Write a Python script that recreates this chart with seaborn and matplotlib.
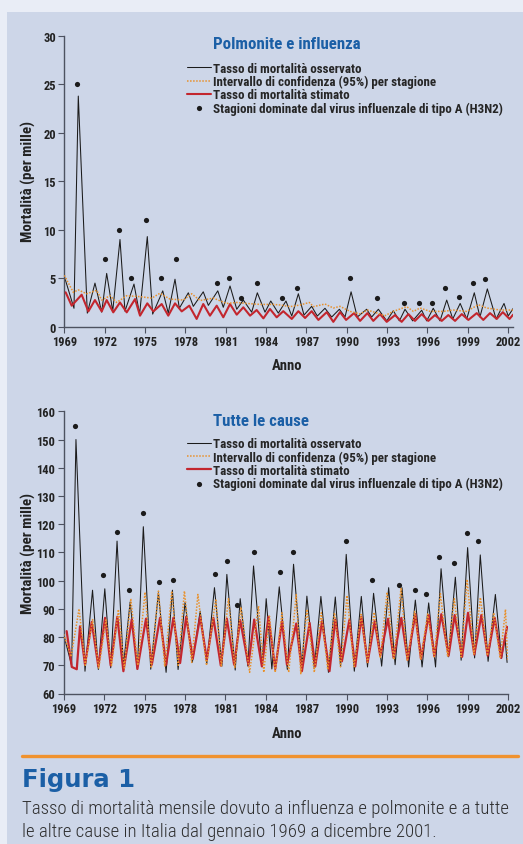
import matplotlib
matplotlib.use("Agg")
import matplotlib.pyplot as plt
from matplotlib.patches import Rectangle
from matplotlib.lines import Line2D
import seaborn as sns

# --- Data (decimal year, rate per mille) ---

# Polmonite e influenza
pi_obs_t = [1969.0, 1969.72, 1970.04, 1970.71, 1971.28, 1971.78, 1972.15, 1972.6, 1973.14, 1973.51,
            1974.18, 1974.6, 1975.17, 1975.57, 1976.32, 1976.73, 1977.23, 1977.55, 1978.22, 1978.59,
            1979.33, 1979.71, 1980.41, 1980.82, 1981.32, 1981.82, 1982.31, 1982.93, 1983.35, 1983.92,
            1984.35, 1984.91, 1985.48, 1985.91, 1986.4, 1986.82, 1987.39, 1987.81, 1988.38, 1988.88,
            1989.45, 1989.87, 1990.32, 1990.78, 1991.48, 1991.85, 1992.35, 1992.97, 1993.46, 1993.91,
            1994.33, 1994.9, 1995.57, 1995.94, 1996.43, 1996.93, 1997.43, 1997.88, 1998.43, 1998.92,
            1999.48, 1999.9, 2000.45, 2001.1, 2001.69, 2002.0, 2002.38]
pi_obs_v = [5.2, 1.9, 23.8, 1.4, 4.5, 1.5, 5.5, 1.6, 9.0, 1.6,
            4.4, 1.3, 9.3, 1.3, 3.7, 1.4, 4.9, 1.9, 3.5, 2.1,
            3.6, 2.2, 3.7, 2.0, 4.2, 1.8, 2.75, 1.5, 3.5, 1.5,
            2.65, 1.4, 2.65, 1.1, 3.4, 1.2, 2.1, 1.1, 1.9, 1.0,
            1.8, 1.0, 3.6, 1.0, 1.8, 1.0, 1.8, 0.6, 1.65, 0.6,
            1.8, 0.6, 1.7, 0.6, 1.9, 0.6, 2.75, 0.8, 2.4, 0.8,
            3.5, 1.0, 3.9, 0.8, 2.4, 1.1, 1.9]

pi_ci_t = [1969.0, 1969.67, 1970.04, 1970.66, 1971.41, 1971.78, 1972.4, 1972.89, 1973.64, 1974.63,
           1975.5, 1976.11, 1976.86, 1977.85, 1978.47, 1979.09, 1980.08, 1981.07, 1981.81, 1982.56,
           1983.55, 1984.54, 1985.04, 1985.78, 1986.52, 1987.22, 1987.52, 1988.38, 1989.0, 1989.5,
           1990.24, 1990.98, 1991.53, 1992.1, 1992.84, 1993.46, 1994.45, 1994.95, 1995.45, 1996.19,
           1997.18, 1997.92, 1998.91, 1999.78, 2000.4, 2001.39, 2002.38]
pi_ci_v = [5.3, 3.55, 3.8, 3.4, 3.75, 2.75, 3.2, 2.5, 3.2, 3.1,
           2.95, 3.45, 2.85, 2.75, 3.4, 2.7, 2.95, 2.4, 2.5, 2.4,
           2.3, 2.3, 2.24, 2.07, 2.24, 2.5, 2.07, 2.34, 1.93, 2.1,
           1.58, 1.31, 1.72, 1.48, 1.14, 1.58, 2.07, 1.58, 1.93, 1.58,
           1.58, 1.72, 1.58, 2.27, 1.93, 1.72, 1.72]

pi_est_t = [1969.1, 1969.55, 1970.29, 1970.79, 1971.28, 1971.78, 1972.15, 1972.64, 1973.14, 1973.64,
            1974.26, 1974.63, 1975.17, 1975.62, 1976.24, 1976.73, 1977.23, 1977.73, 1978.29, 1978.84,
            1979.33, 1979.83, 1980.33, 1980.82, 1981.32, 1981.82, 1982.31, 1982.81, 1983.3, 1983.8,
            1984.29, 1984.79, 1985.28, 1985.91, 1986.4, 1986.9, 1987.39, 1987.89, 1988.51, 1989.0,
            1989.5, 1989.95, 1990.54, 1990.99, 1991.53, 1991.97, 1992.47, 1992.97, 1993.59, 1994.08,
            1994.58, 1995.07, 1995.57, 1996.06, 1996.56, 1997.06, 1997.55, 1998.05, 1998.55, 1999.04,
            1999.66, 2000.15, 2000.65, 2001.15, 2001.6, 2002.1, 2002.37]
pi_est_v = [3.55, 2.17, 3.3, 1.58, 2.75, 1.58, 2.75, 1.48, 2.5, 1.48,
            2.85, 1.14, 2.41, 1.58, 2.34, 1.14, 2.41, 1.58, 2.17, 0.8,
            2.34, 1.14, 2.17, 0.97, 2.34, 1.24, 2.0, 1.14, 1.72, 0.86,
            1.83, 0.97, 1.6, 0.8, 1.6, 0.9, 1.6, 0.7, 1.5, 0.5,
            1.5, 0.7, 1.4, 0.6, 1.4, 0.6, 1.3, 0.5, 1.2, 0.5,
            1.3, 0.6, 1.3, 0.6, 1.2, 0.6, 1.2, 0.6, 1.3, 0.7,
            1.4, 0.7, 1.4, 0.8, 1.5, 0.8, 1.25]

pi_h3n2_t = [1969.92, 1972.05, 1973.09, 1973.94, 1975.05, 1976.21, 1977.27, 1980.35, 1981.25, 1982.14,
             1983.3, 1985.2, 1986.28, 1990.24, 1992.23, 1994.28, 1995.4, 1996.32, 1997.3, 1998.37,
             1999.36, 2000.27]
pi_h3n2_v = [25.0, 7.0, 10.0, 5.0, 11.0, 5.0, 7.0, 4.5, 5.0, 3.0,
             4.5, 3.0, 4.0, 5.0, 3.0, 2.4, 2.4, 2.4, 4.0, 3.1,
             4.5, 4.9]

# Tutte le cause
ac_obs_t = [1969.0, 1969.59, 1969.91, 1970.58, 1971.14, 1971.57, 1972.05, 1972.49, 1972.96, 1973.43,
            1973.93, 1974.47, 1974.91, 1975.46, 1976.03, 1976.6, 1977.07, 1977.49, 1978.01, 1978.55,
            1979.13, 1979.62, 1980.19, 1980.74, 1981.11, 1981.73, 1982.1, 1982.67, 1983.09, 1983.71,
            1984.03, 1984.45, 1985.0, 1985.6, 1986.06, 1986.68, 1987.05, 1987.6, 1988.09, 1988.65,
            1989.16, 1989.55, 1989.97, 1990.57, 1991.09, 1991.55, 1992.0, 1992.6, 1993.12, 1993.6,
            1994.11, 1994.6, 1995.1, 1995.6, 1996.09, 1996.6, 1997.01, 1997.55, 1998.07, 1998.5,
            1998.98, 1999.5, 1999.92, 2000.5, 2001.04, 2001.5, 2001.75, 2001.91]
ac_obs_v = [80.9, 69.9, 150.0, 67.9, 96.6, 68.5, 97.1, 69.1, 114.0, 69.7,
            92.4, 68.5, 119.1, 68.6, 95.7, 67.5, 96.6, 68.5, 92.3, 71.1,
            89.2, 70.6, 97.5, 69.7, 102.2, 68.3, 93.6, 69.7, 105.2, 69.7,
            93.6, 68.7, 97.8, 68.5, 105.8, 69.6, 94.5, 69.0, 94.4, 67.5,
            94.2, 69.5, 109.3, 67.9, 94.4, 69.4, 95.5, 69.7, 97.5, 70.2,
            97.5, 69.4, 93.1, 69.4, 92.1, 69.4, 104.2, 73.0, 101.2, 71.8,
            111.7, 72.6, 109.1, 71.4, 95.1, 72.5, 80.0, 71.0]

ac_ci_t = [1969.0, 1969.55, 1970.14, 1970.6, 1971.15, 1971.6, 1972.14, 1972.55, 1973.06, 1973.5,
           1973.98, 1974.5, 1975.04, 1975.5, 1976.03, 1976.5, 1977.02, 1977.5, 1977.96, 1978.5,
           1978.96, 1979.6, 1980.29, 1980.7, 1981.23, 1981.7, 1982.15, 1982.8, 1983.46, 1983.85,
           1984.27, 1984.7, 1985.2, 1985.7, 1986.26, 1986.6, 1987.05, 1987.6, 1988.12, 1988.6,
           1989.1, 1989.55, 1990.03, 1990.55, 1991.07, 1991.55, 1992.05, 1992.5, 1993.0, 1993.5,
           1994.04, 1994.5, 1995.05, 1995.5, 1996.01, 1996.5, 1996.96, 1997.5, 1997.99, 1998.5,
           1998.94, 1999.45, 1999.93, 2000.45, 2000.92, 2001.4, 2001.79, 2001.95]
ac_ci_v = [81.0, 73.0, 90.0, 70.0, 86.2, 69.0, 86.1, 70.0, 89.8, 69.0,
           93.6, 70.0, 95.9, 69.0, 96.3, 69.5, 96.3, 70.0, 96.3, 71.0,
           95.1, 70.0, 93.5, 69.5, 93.8, 69.0, 90.6, 67.5, 91.0, 67.5,
           87.4, 67.5, 88.6, 67.5, 95.0, 66.8, 89.8, 67.5, 88.6, 68.5,
           88.6, 69.5, 94.7, 69.5, 88.0, 71.0, 88.8, 72.5, 95.9, 72.0,
           97.5, 71.5, 89.1, 72.0, 88.2, 73.0, 95.4, 73.0, 93.6, 73.0,
           100.4, 74.0, 94.0, 73.5, 88.6, 72.5, 89.8, 72.0]

ac_est_t = [1969.22, 1969.6, 1969.97, 1970.21, 1970.58, 1971.08, 1971.57, 1972.07, 1972.49, 1972.98,
            1973.43, 1974.05, 1974.47, 1975.11, 1975.54, 1976.15, 1976.6, 1977.14, 1977.64, 1978.09,
            1978.58, 1979.13, 1979.62, 1980.11, 1980.66, 1981.11, 1981.65, 1982.1, 1982.71, 1983.14,
            1983.71, 1984.2, 1984.7, 1985.2, 1985.57, 1986.26, 1986.68, 1987.25, 1987.67, 1988.17,
            1988.73, 1989.16, 1989.65, 1990.2, 1990.64, 1991.09, 1991.56, 1992.08, 1992.5, 1993.07,
            1993.49, 1994.06, 1994.53, 1995.1, 1995.52, 1996.09, 1996.51, 1997.03, 1997.57, 1998.02,
            1998.57, 1999.01, 1999.48, 2000.0, 2000.47, 2000.99, 2001.47, 2001.91]
ac_est_v = [82.1, 69.4, 68.6, 83.8, 70.3, 85.3, 69.6, 86.8, 69.9, 87.2,
            67.9, 86.2, 68.7, 86.5, 70.2, 86.8, 70.2, 86.8, 70.8, 87.2,
            72.3, 87.2, 72.0, 86.8, 69.9, 86.5, 70.2, 86.0, 70.2, 86.2,
            69.6, 87.2, 68.7, 85.6, 70.2, 84.8, 67.9, 85.0, 69.6, 85.6,
            67.9, 86.2, 71.4, 86.0, 69.6, 87.2, 71.1, 85.6, 73.4, 86.5,
            72.6, 86.8, 72.0, 88.1, 72.3, 87.8, 73.2, 88.1, 73.4, 87.8,
            73.0, 88.6, 73.8, 87.8, 73.4, 86.8, 72.6, 83.6]

ac_h3n2_t = [1969.84, 1971.94, 1972.94, 1973.87, 1974.91, 1976.1, 1977.1, 1980.24, 1981.15, 1981.9,
             1983.09, 1985.07, 1986.01, 1989.95, 1991.88, 1993.89, 1995.05, 1995.92, 1996.86, 1997.94,
             1998.94, 1999.76]
ac_h3n2_v = [154.9, 102.1, 117.4, 96.5, 124.0, 99.5, 100.2, 102.2, 106.9, 91.3,
             110.1, 103.2, 110.3, 114.0, 100.2, 98.4, 96.5, 95.3, 108.4, 106.4,
             117.0, 114.0]

year_ticks = list(range(1969, 2003, 3))
lbl_obs = "Tasso di mortalità osservato"
lbl_ci = "Intervallo di confidenza (95%) per stagione"
lbl_est = "Tasso di mortalità stimato"
lbl_dot = "Stagioni dominate dal virus influenzale di tipo A (H3N2)"

# --- Style ---
OUTER = "#e9edf6"
PANEL = "#cdd6e8"
BLUE = "#1b5fa6"
RED = "#c3262e"
ORANGE = "#e8912d"
INK = "#1b1b1b"
SPINE = "#4d5260"

sns.set_theme(style="ticks")
plt.rcParams['font.family'] = ['Roboto Condensed', 'Liberation Sans Narrow', 'Roboto', 'DejaVu Sans']

W, H = 523, 845
fig = plt.figure(figsize=(W / 100, H / 100), dpi=100)
fig.patch.set_facecolor(OUTER)
fig.patches.append(Rectangle((7 / W, 0), 1 - 7 / W, 1 - 13 / H, transform=fig.transFigure,
                             facecolor=PANEL, edgecolor="none", zorder=-1))


def add_axes_px(left, top, right, bottom):
    return fig.add_axes([left / W, 1 - bottom / H, (right - left) / W, (bottom - top) / H])


def draw_panel(ax, obs, ci, est, dots, est_lw, legend_top):
    sns.lineplot(x=obs[0], y=obs[1], ax=ax, color=INK, lw=0.75, sort=False,
                 estimator=None, label=lbl_obs, zorder=2)
    sns.lineplot(x=est[0], y=est[1], ax=ax, color=RED, lw=est_lw, sort=False,
                 estimator=None, label=lbl_est, zorder=3)
    sns.lineplot(x=ci[0], y=ci[1], ax=ax, color=ORANGE, lw=1.1, ls=(0, (1, 1)), sort=False,
                 estimator=None, label=lbl_ci, zorder=4)
    sns.scatterplot(x=dots[0], y=dots[1], ax=ax, color=INK, s=14, linewidth=0,
                    label=lbl_dot, zorder=5)
    ax.set_facecolor("none")
    sns.despine(ax=ax)
    for side in ("left", "bottom"):
        ax.spines[side].set_color(SPINE)
        ax.spines[side].set_linewidth(1.0)
    ax.set_xticks(year_ticks)
    ax.tick_params(axis="both", direction="out", length=4.5, width=0.8, color=SPINE,
                   pad=1.5, labelsize=9, labelcolor="#222222")
    for t in ax.get_xticklabels() + ax.get_yticklabels():
        t.set_fontweight("bold")
    ax.set_xlabel("")
    ax.set_ylabel("")
    handles, labels = ax.get_legend_handles_labels()
    order = [labels.index(l) for l in (lbl_obs, lbl_ci, lbl_est, lbl_dot)]
    ax.legend([handles[i] for i in order], [labels[i] for i in order],
              loc="upper left", bbox_to_anchor=(187 / W, 1 - legend_top / H),
              bbox_transform=fig.transFigure, frameon=False, handlelength=1.8,
              handletextpad=0.2, labelspacing=0.0, borderpad=0, borderaxespad=0,
              prop=dict(weight="bold", size=9.4))


# Top panel
ax1 = add_axes_px(64.3, 37, 513.3, 327.7)
draw_panel(ax1, (pi_obs_t, pi_obs_v), (pi_ci_t, pi_ci_v), (pi_est_t, pi_est_v),
           (pi_h3n2_t, pi_h3n2_v), 1.5, 63)
ax1.set_xlim(1969, 2002.38)
ax1.set_ylim(0, 30)
ax1.set_yticks(range(0, 31, 5))

# Bottom panel
ax2 = add_axes_px(63.7, 412.3, 508.3, 694.5)
draw_panel(ax2, (ac_obs_t, ac_obs_v), (ac_ci_t, ac_ci_v), (ac_est_t, ac_est_v),
           (ac_h3n2_t, ac_h3n2_v), 1.6, 438.5)
ax2.set_xlim(1969, 2002)
ax2.set_ylim(60, 160)
ax2.set_yticks(range(60, 161, 10))

# Panel titles and axis labels
fig.text(213 / W, 1 - 48.7 / H, "Polmonite e influenza", color=BLUE, weight="bold",
         size=12.2, va="baseline")
fig.text(213 / W, 1 - 425.7 / H, "Tutte le cause", color=BLUE, weight="bold",
         size=12.2, va="baseline")
for yc in (182, 553):
    fig.text(28 / W, 1 - yc / H, "Mortalità (per mille)", rotation=90, weight="bold",
             size=10.8, color="#222222", ha="center", va="center")
for yb in (370, 738):
    fig.text(287 / W, 1 - yb / H, "Anno", weight="bold", size=10.5, color="#222222",
             ha="center", va="baseline")

# Caption
fig.add_artist(Line2D([22 / W, 518 / W], [1 - 757.3 / H] * 2, transform=fig.transFigure,
                      color="#f0922e", lw=2.4))
fig.text(22 / W, 1 - 787 / H, "Figura 1", family="DejaVu Sans", weight="heavy",
         size=17.5, color=BLUE, va="baseline")
fig.text(22 / W, 1 - 814.3 / H,
         "Tasso di mortalità mensile dovuto a influenza e polmonite e a tutte",
         size=13.5, weight="light", color="#2e2e2e", va="baseline")
fig.text(22 / W, 1 - 836.7 / H, "le altre cause in Italia dal gennaio 1969 a dicembre 2001.",
         size=13.5, weight="light", color="#2e2e2e", va="baseline")

fig.savefig("out.png", dpi=100, facecolor=fig.get_facecolor())
